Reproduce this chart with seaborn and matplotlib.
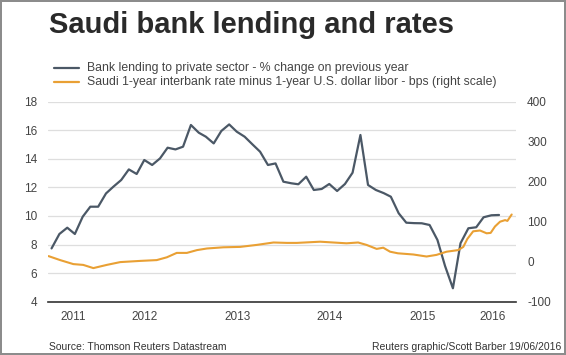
import pandas as pd
import matplotlib
matplotlib.use("Agg")
import matplotlib.pyplot as plt
import matplotlib.dates as mdates
from matplotlib.lines import Line2D
from matplotlib import font_manager
import seaborn as sns

# Bank lending to private sector, % y/y, month-end values Jun 2011 - Apr 2016
lending_first_month = "2011-06-01"
lending_pct = [
    7.73, 8.74, 9.18, 8.74, 9.95, 10.65, 10.65,
    11.58, 12.05, 12.52, 13.26, 12.94, 13.92, 13.57, 14.03, 14.78, 14.66, 14.85, 16.37,
    15.83, 15.55, 15.08, 15.95, 16.41, 15.9, 15.55, 15.01, 14.5, 13.57, 13.68, 12.4,
    12.29, 12.22, 12.75, 11.82, 11.89, 12.24, 11.75, 12.24, 13.03, 15.67, 12.17, 11.82,
    11.6, 11.35, 10.19, 9.53, 9.5, 9.49, 9.37, 8.32, 6.5, 4.94, 8.09, 9.14,
    9.21, 9.91, 10.05, 10.07,
]

# Saudi 1-yr interbank minus 1-yr USD libor, bps (right scale)
spread_dates = [
    "2011-06-18", "2011-08-03", "2011-09-24", "2011-11-02", "2011-12-12",
    "2012-02-03", "2012-03-27", "2012-06-14", "2012-08-18", "2012-09-27",
    "2012-11-05", "2012-12-15", "2013-01-24", "2013-03-04", "2013-05-08",
    "2013-07-13", "2013-09-17", "2013-11-22", "2014-01-14", "2014-02-22",
    "2014-05-25", "2014-09-06", "2014-10-22", "2014-11-24", "2015-01-03",
    "2015-01-29", "2015-02-25", "2015-03-28", "2015-05-28", "2015-07-19",
    "2015-08-27", "2015-10-06", "2015-11-21", "2015-12-11", "2015-12-27",
    "2016-01-19", "2016-02-15", "2016-03-12", "2016-03-28", "2016-04-14",
    "2016-05-04", "2016-05-24", "2016-06-02", "2016-06-19",
]
spread_bps = [
    14, 4, -6, -8, -16,
    -8, -1, 2, 4, 11,
    22, 22, 29, 33, 36,
    37, 42, 48, 47, 47,
    50, 46, 48, 42, 32,
    35, 25, 21, 18, 13,
    17, 25, 29, 37, 57,
    76, 78, 71, 72, 88,
    100, 104, 102, 118,
]

years = [2011, 2012, 2013, 2014, 2015, 2016]
left_ticks = [4, 6, 8, 10, 12, 14, 16, 18]
right_ticks = [-100, 0, 100, 200, 300, 400]
legend_labels = [
    "Bank lending to private sector - % change on previous year",
    "Saudi 1-year interbank rate minus 1-year U.S. dollar libor - bps (right scale)",
]

blue = "#4b5866"
orange = "#e9a034"
text_col = "#444444"

lend = pd.DataFrame({
    "date": pd.date_range(lending_first_month, periods=len(lending_pct), freq="MS") + pd.offsets.MonthEnd(0),
    "value": lending_pct,
})
spread = pd.DataFrame({"date": pd.to_datetime(spread_dates), "bps": spread_bps})

sns.set_style("white")
names = {f.name for f in font_manager.fontManager.ttflist}
narrow = "Liberation Sans Narrow" in names
if narrow:
    small_font = ["Liberation Sans Narrow", "Liberation Sans", "DejaVu Sans"]
    tick_fs, leg_fs = 9.5, 10.5
else:
    small_font = ["Liberation Sans", "DejaVu Sans"]
    tick_fs, leg_fs = 8.5, 8.8
plain_font = ["Liberation Sans", "DejaVu Sans"]
plt.rcParams["font.family"] = small_font
plt.rcParams["axes.unicode_minus"] = False

W, H = 566, 355
fig = plt.figure(figsize=(W / 100, H / 100), dpi=100, edgecolor="#8c8c8c", linewidth=1.5)
ax = fig.add_axes([48 / W, 1 - 301.7 / H, 468 / W, 200 / H])

sns.lineplot(data=lend, x="date", y="value", ax=ax, color=blue, linewidth=1.6)
ax2 = ax.twinx()
sns.lineplot(data=spread, x="date", y="bps", ax=ax2, color=orange, linewidth=1.5)

x0, x1 = pd.Timestamp("2011-06-16"), pd.Timestamp("2016-07-06")
ax.set_xlim(x0, x1)

# year boundaries as tick marks, labels centred in each year span
bounds = [mdates.date2num(pd.Timestamp(f"{y}-01-01")) for y in years[1:]]
edges = [mdates.date2num(x0)] + bounds + [mdates.date2num(x1)]
label_pos = [(a + b) / 2 for a, b in zip(edges[:-1], edges[1:])]
ax.set_xticks(bounds)
ax.set_xticklabels([])
ax.set_xticks(label_pos, minor=True)
ax.set_xticklabels([str(y) for y in years], minor=True)
ax.tick_params(axis="x", which="major", length=6, width=1, color="#333333", direction="out")
ax.tick_params(axis="x", which="minor", length=0, pad=7, labelsize=tick_fs, labelcolor=text_col)

ax.set_ylim(4, 18)
ax.set_yticks(left_ticks)
ax.tick_params(axis="y", length=0, pad=8, labelsize=tick_fs, labelcolor=text_col)
ax2.set_ylim(-100, 400)
ax2.set_yticks(right_ticks)
ax2.tick_params(axis="y", length=0, pad=8, labelsize=tick_fs, labelcolor=text_col)

ax.grid(axis="y", color="#dedede", linewidth=0.9)
ax2.grid(False)
for a in (ax, ax2):
    a.set_xlabel("")
    a.set_ylabel("")
    for s in ("top", "left", "right"):
        a.spines[s].set_visible(False)
ax2.spines["bottom"].set_visible(False)
ax.spines["bottom"].set_color("#333333")
ax.spines["bottom"].set_linewidth(1.2)

fig.text(49 / W, 1 - 33 / H, "Saudi bank lending and rates", family=plain_font,
         fontsize=21, fontweight="bold", color="#2a2a2a", va="baseline")

for i, (lab, col) in enumerate(zip(legend_labels, [blue, orange])):
    yy = 1 - (68 + 13.5 * i) / H
    fig.add_artist(Line2D([54 / W, 79 / W], [yy, yy], color=col, linewidth=1.6,
                          transform=fig.transFigure))
    fig.text(87 / W, yy, lab, fontsize=leg_fs, color=text_col, va="center")

fig.text(49 / W, 1 - 347 / H, "Source: Thomson Reuters Datastream", family=plain_font,
         fontsize=7.5, color="#333333", va="center")
fig.text(561 / W, 1 - 347 / H, "Reuters graphic/Scott Barber 19/06/2016", family=plain_font,
         fontsize=7.5, color="#333333", va="center", ha="right")

fig.savefig("out.png", dpi=100)
